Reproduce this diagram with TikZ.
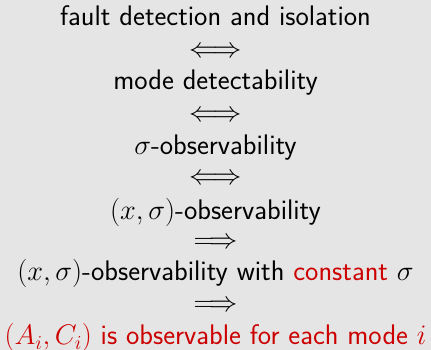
\documentclass[tikz,border=0pt]{standalone}
\usepackage{fix-cm}
\definecolor{bg}{RGB}{229,229,229}
\definecolor{myred}{RGB}{204,0,0}
\begin{document}
\begin{tikzpicture}[x=1pt,y=1pt,
  row/.style={anchor=base,inner sep=0pt,font=\fontsize{28.3}{32}\selectfont\sffamily},
  imp/.style={anchor=base,inner sep=0pt,font=\fontsize{28.3}{32}\selectfont}]
\fill[bg] (0,0) rectangle (431,350);
\useasboundingbox (0,0) rectangle (431,350);
\node[row] (r1) at (215.5,324) {fault detection and isolation};
\node[imp] (a1) at (215.5,292) {$\Longleftrightarrow$};
\node[row] (r2) at (215.5,260) {mode detectability};
\node[imp] (a2) at (215.5,228) {$\Longleftrightarrow$};
\node[row] (r3) at (215.5,195) {$\sigma$-observability};
\node[imp] (a3) at (215.5,165) {$\Longleftrightarrow$};
\node[row] (r4) at (215.5,130) {$(x,\sigma)$-observability};
\node[imp] (a4) at (215.5,101) {$\Longrightarrow$};
\node[row] (r5) at (215.5,69) {$(x,\sigma)$-observability with \textcolor{myred}{constant} $\sigma$};
\node[imp] (a5) at (215.5,38) {$\Longrightarrow$};
\node[row,text=myred] (r6) at (215.5,5) {$(A_i,C_i)$ is observable for each mode $i$};
\end{tikzpicture}
\end{document}
